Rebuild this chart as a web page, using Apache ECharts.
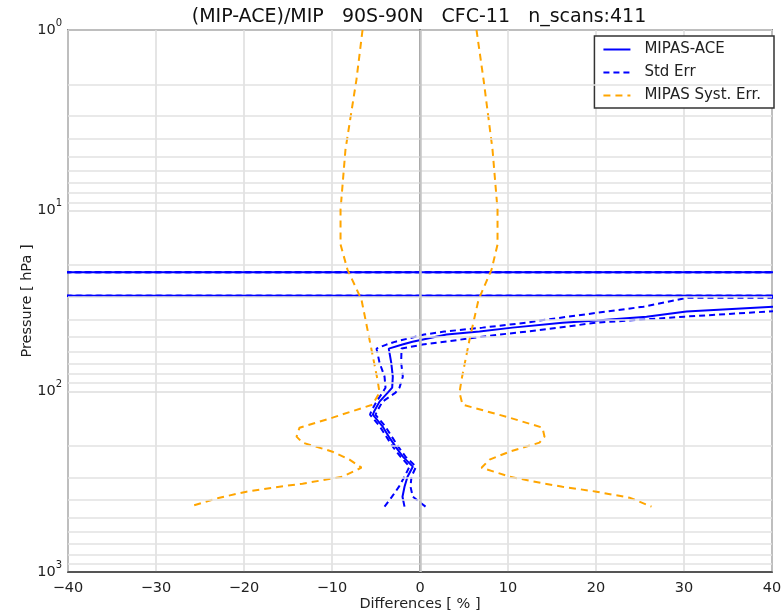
<!DOCTYPE html>
<html>
<head>
<meta charset="utf-8">
<script src="https://cdn.jsdelivr.net/npm/echarts@6/dist/echarts.min.js"></script>
<style>
  html, body { margin: 0; padding: 0; background: #fff; }
  #chart { width: 784px; height: 613px; }
</style>
</head>
<body>
<div id="chart"></div>
<script>
// Relative difference profile (MIPAS - ACE) / MIPAS for CFC-11, 90S-90N, in percent.
// OFF marks values far outside the plotted range.
const OFF = 5000;

// Pressure levels of the difference profile [hPa]
const profilePressure = [434.8, 382.9, 337.1, 296.8, 261.2, 229.9, 204.9, 180.5, 156.9, 145.3,
  134.6, 127.9, 114.0, 101.7, 95.4, 82.9, 69.4, 58.0, 55.1, 53.1,
  48.5, 46.7, 44.4, 41.7, 40.6, 38.6, 36.2, 34.0, 30.3, 29.7,
  29.5, 22.0, 21.8, 1.0];

// Mean relative difference [%]
const meanDiff = [-1.76, -1.99, -1.76, -1.42, -0.82, -1.95, -2.70, -3.47, -4.23, -4.80,
  -5.36, -5.17, -4.60, -3.66, -3.16, -3.09, -3.27, -3.55, -2.00, -0.85,
  3.01, 6.76, 10.51, 16.19, 20.06, 25.74, 30.28, 40.3, 55, OFF,
  -OFF, -OFF, OFF, OFF];

// Mean minus / plus standard error [%]
const stdErrLow = [-4.03, -3.18, -2.39, -1.76, -1.19, -2.22, -3.01, -3.75, -4.55, -5.11,
  -5.68, -5.51, -4.94, -4.26, -3.92, -4.03, -4.60, -4.94, -3.81, -2.78,
  0.47, 2.75, 7.10, 12.07, 13.58, 16.88, 21.14, 25.40, 30.40, OFF,
  -OFF, -OFF, OFF, OFF];
const stdErrHigh = [0.63, -0.82, -1.08, -0.97, -0.45, -1.65, -2.39, -3.13, -3.92, -4.49,
  -5.06, -4.83, -4.26, -2.78, -2.33, -1.95, -2.14, -2.10, 0.28, 2.78,
  9.09, 12.10, 15.74, 20.00, 23.58, 30.06, 39.49, 48, 70, OFF,
  -OFF, -OFF, OFF, OFF];

// MIPAS systematic error envelope
const systPressure = [1.0, 1.88, 4.59, 9.86, 15.4, 21.2, 31.1, 51.7, 86.1, 101.7,
  118.5, 139.8, 158.9, 178.2, 192.3, 215.8, 238.9, 264.6, 296.8, 324.4,
  337.1, 359.3, 387.8, 434.8];
const systLow = [-6.53, -7.22, -8.47, -9.03, -9.03, -8.24, -6.65, -5.74, -4.83, -4.60,
  -5.40, -9.94, -13.69, -14.03, -13.35, -9.94, -8.01, -6.65, -8.81, -13.35,
  -15.97, -19.72, -22.78, -26.19];
const systHigh = [6.42, 7.22, 8.24, 8.81, 8.81, 8.13, 6.65, 5.63, 4.72, 4.49,
  4.83, 10.17, 13.92, 14.15, 13.58, 10.17, 7.90, 6.99, 10.17, 14.15,
  16.19, 20.06, 23.81, 26.31];

// Axes
const xMin = -40, xMax = 40, xStep = 10;
const pTop = 1, pBottom = 1000;
const minorPressure = [2, 3, 4, 5, 6, 7, 8, 9, 20, 30, 40, 50, 60, 70, 80, 90,
  200, 300, 400, 500, 600, 700, 800, 900];

const FONT = 'DejaVu Sans';
const BLUE = '#0000ff';
const ORANGE = '#ffa500';

const pairs = (vals, pres) => vals.map((v, i) => [v, pres[i]]);

const lineSeries = (name, data, color, type, width) => ({
  name: name,
  type: 'line',
  data: data,
  showSymbol: false,
  symbol: 'none',
  clip: true,
  z: 3,
  lineStyle: { color: color, width: width, type: type },
  itemStyle: { color: color, opacity: 0 },
  emphasis: { disabled: true },
  animation: false
});

const chart = echarts.init(document.getElementById('chart'), null, { renderer: 'canvas' });

chart.setOption({
  animation: false,
  backgroundColor: '#ffffff',
  title: {
    text: '(MIP-ACE)/MIP   90S-90N   CFC-11   n_scans:411',
    left: 414,
    top: 3,
    textAlign: 'center',
    textStyle: { fontFamily: FONT, fontSize: 19, fontWeight: 'normal', color: '#111' }
  },
  grid: {
    left: 68, right: 12, top: 30, bottom: 41,
    outerBoundsMode: 'none',
    containLabel: false,
    show: true,
    borderColor: '#333',
    borderWidth: 1.5,
    backgroundColor: '#fff'
  },
  legend: {
    data: ['MIPAS-ACE', 'Std Err', 'MIPAS Syst. Err.'],
    orient: 'vertical',
    right: 10,
    top: 36,
    itemWidth: 27,
    itemHeight: 12,
    itemGap: 8,
    padding: [6, 13, 5, 8],
    backgroundColor: '#fff',
    borderColor: '#333',
    borderWidth: 1.5,
    borderRadius: 0,
    selectedMode: false,
    itemStyle: { opacity: 0 },
    textStyle: { fontFamily: FONT, fontSize: 15, color: '#222', padding: [0, 0, 0, 9] }
  },
  xAxis: {
    type: 'value',
    min: xMin, max: xMax, interval: xStep,
    name: 'Differences [ % ]',
    nameLocation: 'middle',
    nameGap: 25,
    nameMoveOverlap: false,
    nameTextStyle: { fontFamily: FONT, fontSize: 14.5, color: '#222' },
    axisLine: { show: true, lineStyle: { color: '#333', width: 1.5 } },
    axisTick: { show: false },
    axisLabel: {
      margin: 9,
      fontFamily: FONT, fontSize: 14.5, color: '#222',
      formatter: v => String(v).replace('-', '\u2212')
    },
    splitLine: { show: true, lineStyle: { color: '#dcdcdc', width: 1.5 } }
  },
  yAxis: {
    type: 'log',
    logBase: 10,
    min: pTop, max: pBottom,
    inverse: true,
    name: 'Pressure [ hPa ]',
    nameLocation: 'middle',
    nameRotate: 90,
    nameGap: 33,
    nameMoveOverlap: false,
    nameTextStyle: { fontFamily: FONT, fontSize: 14.5, color: '#222' },
    axisLine: { show: true, lineStyle: { color: '#333', width: 1.5 } },
    axisTick: { show: false },
    axisLabel: {
      margin: 6,
      formatter: v => '{b|10}{s|' + Math.round(Math.log10(v)) + '}',
      rich: {
        b: { fontFamily: FONT, fontSize: 14.5, color: '#222', lineHeight: 24 },
        s: { fontFamily: FONT, fontSize: 10, color: '#222', lineHeight: 11, verticalAlign: 'top' }
      }
    },
    splitLine: { show: true, lineStyle: { color: '#dcdcdc', width: 1.5 } }
  },
  series: [
    {
      name: 'grid-minor',
      type: 'line',
      data: [],
      z: 1,
      silent: true,
      animation: false,
      markLine: {
        silent: true,
        symbol: 'none',
        animation: false,
        label: { show: false },
        emphasis: { disabled: true },
        lineStyle: { color: '#e2e2e2', width: 1.5, type: 'solid' },
        data: minorPressure.map(p => ({ yAxis: p }))
          .concat([{ xAxis: 0, lineStyle: { color: '#c4c4c4', width: 2.5, type: 'solid' } }])
      }
    },
    lineSeries('MIPAS-ACE', pairs(meanDiff, profilePressure), BLUE, 'solid', 2),
    lineSeries('Std Err', pairs(stdErrLow, profilePressure), BLUE, [6, 4], 2),
    lineSeries('Std Err', pairs(stdErrHigh, profilePressure), BLUE, [6, 4], 2),
    lineSeries('MIPAS Syst. Err.', pairs(systLow, systPressure), ORANGE, [7, 5], 2),
    lineSeries('MIPAS Syst. Err.', pairs(systHigh, systPressure), ORANGE, [7, 5], 2)
  ]
});
</script>
</body>
</html>
